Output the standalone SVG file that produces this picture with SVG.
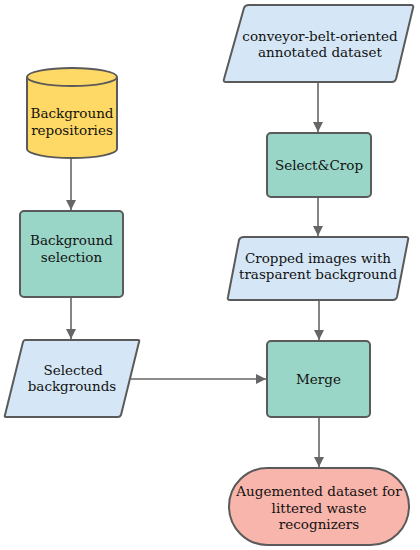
<svg xmlns="http://www.w3.org/2000/svg" width="420" height="550" viewBox="0 0 420 550">
<style>
.s{stroke:#5a5a5a;stroke-width:2;stroke-linejoin:round}
.y{fill:#ffd966}.g{fill:#9ad6c8}.b{fill:#d5e7f6}.r{fill:#f8b5ab}
text{font-family:"DejaVu Serif","Liberation Serif",serif;font-size:13.5px;fill:#111;text-anchor:middle}
.c{fill:none;stroke:#666;stroke-width:1.6}
</style>
<defs>
<marker id="ah" viewBox="0 0 10 10" refX="10" refY="5" markerWidth="10" markerHeight="10" markerUnits="userSpaceOnUse" orient="auto">
<path d="M0,0 L10,5 L0,10 z" fill="#666"/>
</marker>
</defs>
<rect width="420" height="550" fill="#fff"/>
<g id="connectors">
<line class="c" x1="71" y1="158" x2="71" y2="210" marker-end="url(#ah)"/>
<line class="c" x1="71" y1="298" x2="71" y2="339" marker-end="url(#ah)"/>
<line class="c" x1="131" y1="379" x2="266" y2="379" marker-end="url(#ah)"/>
<line class="c" x1="318" y1="83" x2="318" y2="132" marker-end="url(#ah)"/>
<line class="c" x1="318" y1="198" x2="318" y2="236" marker-end="url(#ah)"/>
<line class="c" x1="319" y1="300" x2="319" y2="340" marker-end="url(#ah)"/>
<line class="c" x1="319" y1="418" x2="319" y2="467" marker-end="url(#ah)"/>
</g>
<g id="repositories">
<path class="s y" d="M27,77 A45,9 0 0 1 117,77 L117,149 A45,9 0 0 1 27,149 Z"/>
<path class="s" fill="none" d="M27,77 A45,9 0 0 0 117,77"/>
<text x="72" y="118">Background</text>
<text x="72" y="135">repositories</text>
</g>
<g id="bgselection">
<rect class="s g" x="20" y="211" width="103" height="86" rx="4"/>
<text x="71.5" y="245">Background</text>
<text x="71.5" y="262">selection</text>
</g>
<g id="selected">
<path class="s b" d="M25,340 L138,340 Q140,340 139,342 L121,415 Q120,417 118,417 L6,417 Q4,417 5,415 L23,342 Q24,340 25,340 Z"/>
<text x="73" y="375">Selected</text>
<text x="72" y="391">backgrounds</text>
</g>
<g id="conveyor">
<path class="s b" d="M249,5 L411,5 Q414,5 413,8 L396,79 Q395,82 392,82 L226,82 Q223,82 224,79 L244,8 Q245,5 249,5 Z"/>
<text x="320" y="41">conveyor-belt-oriented</text>
<text x="320" y="57">annotated dataset</text>
</g>
<g id="selectcrop">
<rect class="s g" x="267" y="133" width="104" height="64" rx="4"/>
<text x="319" y="170">Select&amp;Crop</text>
</g>
<g id="cropped">
<path class="s b" d="M244,237 L406,237 Q409,237 408,240 L397,297 Q396,300 393,300 L230,300 Q227,300 228,297 L239,240 Q240,237 244,237 Z"/>
<text x="318" y="263">Cropped images with</text>
<text x="318" y="279">trasparent background</text>
</g>
<g id="merge">
<rect class="s g" x="267" y="341" width="103" height="76" rx="4"/>
<text x="318.5" y="384">Merge</text>
</g>
<g id="augmented">
<rect class="s r" x="229" y="468" width="180" height="77" rx="38.5"/>
<text x="319" y="496">Augemented dataset for</text>
<text x="319" y="513">littered waste</text>
<text x="319" y="529">recognizers</text>
</g>
</svg>
